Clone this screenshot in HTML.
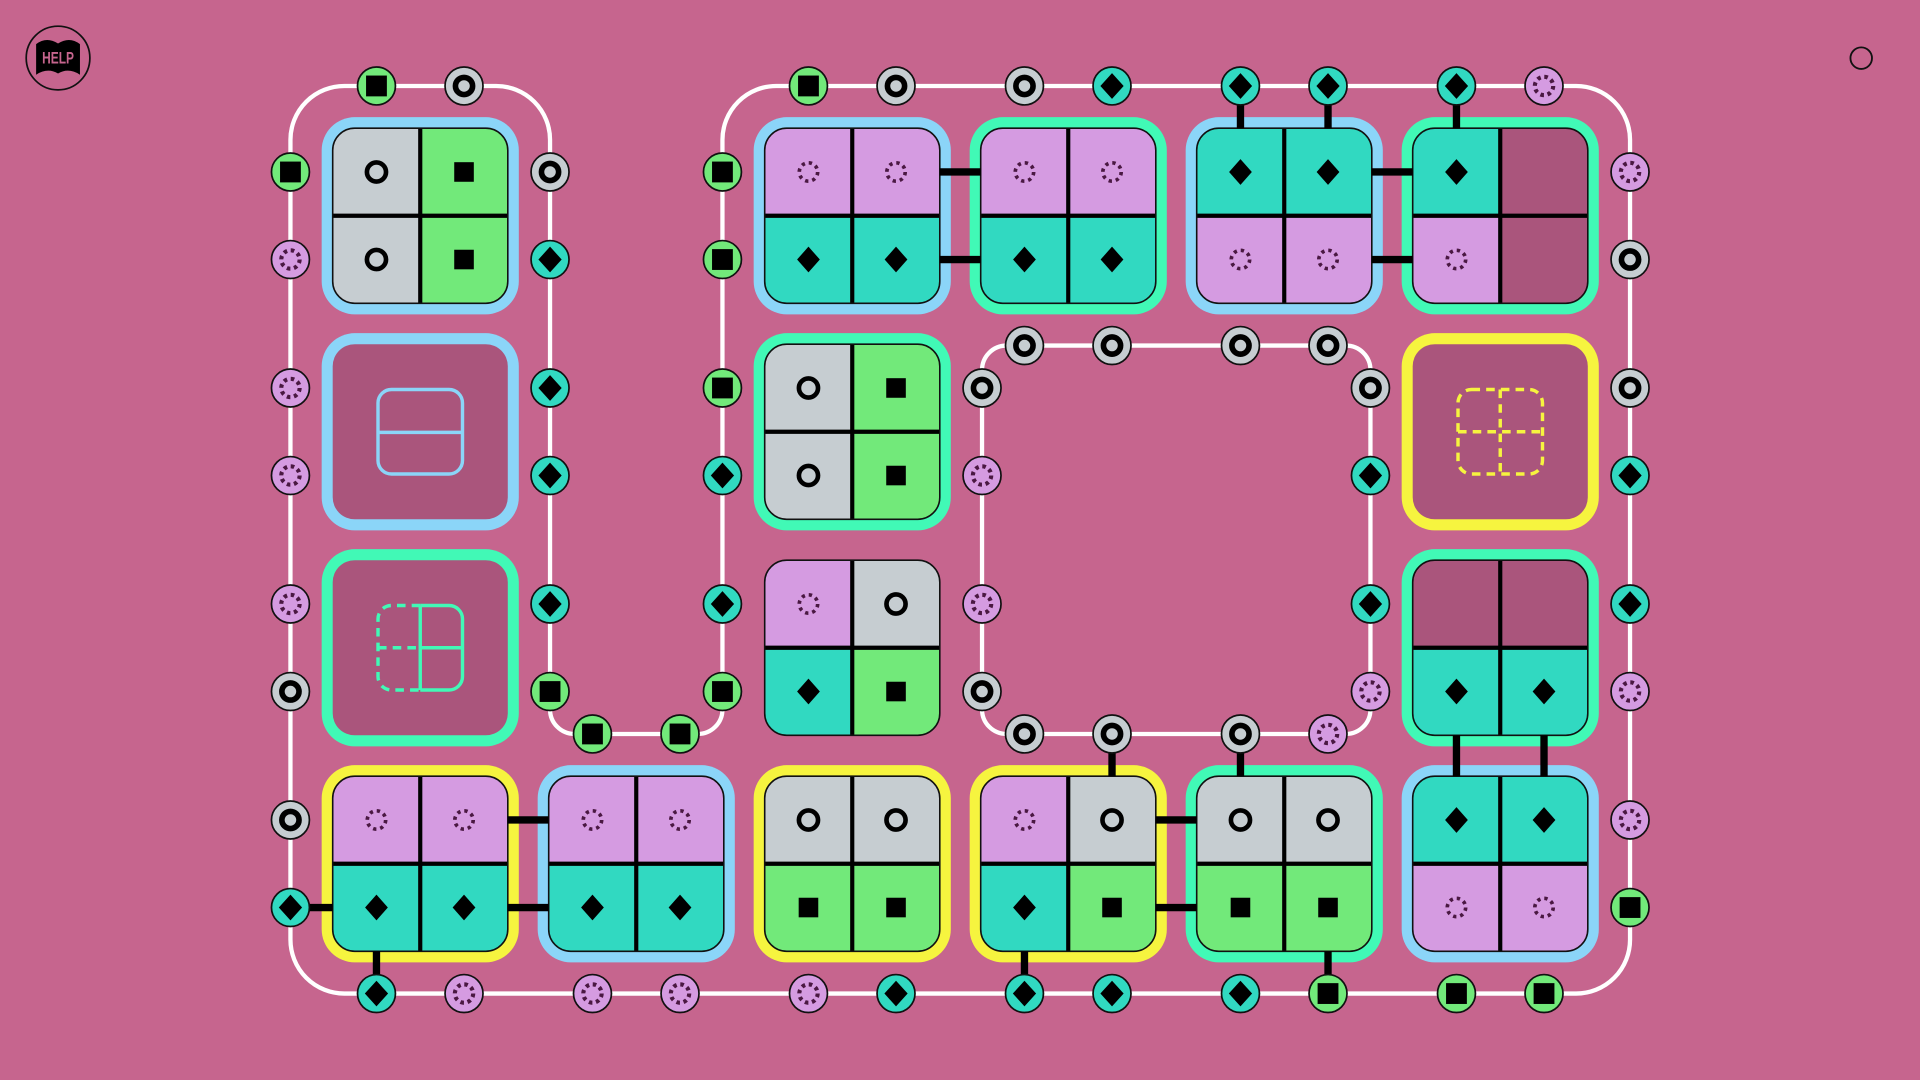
<!DOCTYPE html>
<html><head><meta charset="utf-8"><style>html,body{margin:0;padding:0;background:#C6658E;overflow:hidden}svg{display:block}</style></head>
<body>
<svg width="1920" height="1080" viewBox="0 0 1568 882" xmlns="http://www.w3.org/2000/svg" xmlns:xlink="http://www.w3.org/1999/xlink">
<defs>
<clipPath id="tc"><rect x="-71.5" y="-71.5" width="143" height="143" rx="18"/></clipPath>
<rect id="bd" x="-80.5" y="-80.5" width="161" height="161" rx="27"/>
<rect id="q" width="71.5" height="71.5"/>
<g id="grid"><path d="M0-71.5V71.5M-71.5 0H71.5" stroke="#000" stroke-width="3.4"/><rect x="-71.5" y="-71.5" width="143" height="143" rx="18" fill="none" stroke="#111" stroke-width="1.3"/></g>
<g id="nS"><circle r="15.5" fill="#72E97A" stroke="#111" stroke-width="1.4"/><rect x="-8.5" y="-8.5" width="17" height="17" fill="#000"/></g>
<g id="nR"><circle r="15.5" fill="#C6CDD1" stroke="#111" stroke-width="1.4"/><circle r="7" fill="none" stroke="#000" stroke-width="4.6"/></g>
<g id="nD"><circle r="15.5" fill="#31D9C1" stroke="#111" stroke-width="1.4"/><path d="M0-10.5L9.5 0 0 10.5-9.5 0Z" fill="#000"/></g>
<g id="nL"><circle r="15.5" fill="#D59BE1" stroke="#111" stroke-width="1.4"/><circle r="7.5" fill="none" stroke="#4A1842" stroke-width="3.4" stroke-dasharray="2.9 2.99"/></g>
<circle id="cG" r="7.8" fill="none" stroke="#000" stroke-width="3.8"/>
<rect id="cN" x="-8" y="-8" width="16" height="16" fill="#000"/>
<path id="cT" d="M0-10.5L9.3 0 0 10.5-9.3 0Z" fill="#000"/>
<circle id="cL" r="7.5" fill="none" stroke="#4A1842" stroke-width="3" stroke-dasharray="2.7 3.19"/>
</defs>

<rect width="1568" height="882" fill="#C6658E"/>

<!-- HELP icon -->
<circle cx="47.4" cy="47.4" r="26" fill="none" stroke="#111" stroke-width="1.4"/>
<path d="M29.5 36 Q38 29.5 47.4 35.5 Q56.8 29.5 65.3 36 L65.3 61 Q56 55 47.4 60 Q38.8 55 29.5 61 Z" fill="#000"/>
<text x="47.4" y="51.8" font-size="13.5" font-weight="bold" text-anchor="middle" fill="#C6658E" font-family="'Liberation Sans Narrow','Liberation Sans',sans-serif" textLength="26" lengthAdjust="spacingAndGlyphs">HELP</text>

<!-- top right circle -->
<circle cx="1520" cy="47.5" r="8.8" fill="none" stroke="#111" stroke-width="1.5"/>

<!-- white loops -->
<path d="M281.2 70.2 H405.2 A44 44 0 0 1 449.2 114.2 V579.4 A20 20 0 0 0 469.2 599.4 H570 A20 20 0 0 0 590 579.4 V114.2 A44 44 0 0 1 634 70.2 H1287.2 A44 44 0 0 1 1331.2 114.2 V767.4 A44 44 0 0 1 1287.2 811.4 H281.2 A44 44 0 0 1 237.2 767.4 V114.2 A44 44 0 0 1 281.2 70.2 Z" fill="none" stroke="#fff" stroke-width="3.5"/>
<rect x="802" y="282.2" width="317.2" height="317.2" rx="20" fill="none" stroke="#fff" stroke-width="3.5"/>

<!-- TILES -->
<g transform="translate(343.2,176.2)">
<use href="#bd" fill="#8BD5F8"/>
<g clip-path="url(#tc)"><use href="#q" x="-71.5" y="-71.5" fill="#C6CDD1"/><use href="#q" x="0" y="-71.5" fill="#72E97A"/><use href="#q" x="-71.5" y="0" fill="#C6CDD1"/><use href="#q" x="0" y="0" fill="#72E97A"/></g>
<use href="#grid"/>
<use href="#cG" x="-35.75" y="-35.75"/><use href="#cN" x="35.75" y="-35.75"/><use href="#cG" x="-35.75" y="35.75"/><use href="#cN" x="35.75" y="35.75"/>
</g>
<g transform="translate(696,176.2)">
<use href="#bd" fill="#8BD5F8"/>
<g clip-path="url(#tc)"><use href="#q" x="-71.5" y="-71.5" fill="#D59BE1"/><use href="#q" x="0" y="-71.5" fill="#D59BE1"/><use href="#q" x="-71.5" y="0" fill="#31D9C1"/><use href="#q" x="0" y="0" fill="#31D9C1"/></g>
<use href="#grid"/>
<use href="#cL" x="-35.75" y="-35.75"/><use href="#cL" x="35.75" y="-35.75"/><use href="#cT" x="-35.75" y="35.75"/><use href="#cT" x="35.75" y="35.75"/>
</g>
<g transform="translate(872.4,176.2)">
<use href="#bd" fill="#41F9B6"/>
<g clip-path="url(#tc)"><use href="#q" x="-71.5" y="-71.5" fill="#D59BE1"/><use href="#q" x="0" y="-71.5" fill="#D59BE1"/><use href="#q" x="-71.5" y="0" fill="#31D9C1"/><use href="#q" x="0" y="0" fill="#31D9C1"/></g>
<use href="#grid"/>
<use href="#cL" x="-35.75" y="-35.75"/><use href="#cL" x="35.75" y="-35.75"/><use href="#cT" x="-35.75" y="35.75"/><use href="#cT" x="35.75" y="35.75"/>
</g>
<g transform="translate(1048.8,176.2)">
<use href="#bd" fill="#8BD5F8"/>
<g clip-path="url(#tc)"><use href="#q" x="-71.5" y="-71.5" fill="#31D9C1"/><use href="#q" x="0" y="-71.5" fill="#31D9C1"/><use href="#q" x="-71.5" y="0" fill="#D59BE1"/><use href="#q" x="0" y="0" fill="#D59BE1"/></g>
<use href="#grid"/>
<use href="#cT" x="-35.75" y="-35.75"/><use href="#cT" x="35.75" y="-35.75"/><use href="#cL" x="-35.75" y="35.75"/><use href="#cL" x="35.75" y="35.75"/>
</g>
<g transform="translate(1225.2,176.2)">
<use href="#bd" fill="#41F9B6"/>
<g clip-path="url(#tc)"><use href="#q" x="-71.5" y="-71.5" fill="#31D9C1"/><use href="#q" x="0" y="-71.5" fill="#AA557C"/><use href="#q" x="-71.5" y="0" fill="#D59BE1"/><use href="#q" x="0" y="0" fill="#AA557C"/></g>
<use href="#grid"/>
<use href="#cT" x="-35.75" y="-35.75"/><use href="#cL" x="-35.75" y="35.75"/>
</g>
<g transform="translate(343.2,352.6)">
<use href="#bd" fill="#8BD5F8"/>
<rect x="-71.5" y="-71.5" width="143" height="143" rx="18" fill="#AA557C"/>
<rect x="-34.5" y="-34.5" width="69" height="69" rx="11" fill="none" stroke="#8BD5F8" stroke-width="2.8"/>
<line x1="-34.5" y1="0.5" x2="34.5" y2="0.5" stroke="#8BD5F8" stroke-width="2.8"/>
</g>
<g transform="translate(696,352.6)">
<use href="#bd" fill="#41F9B6"/>
<g clip-path="url(#tc)"><use href="#q" x="-71.5" y="-71.5" fill="#C6CDD1"/><use href="#q" x="0" y="-71.5" fill="#72E97A"/><use href="#q" x="-71.5" y="0" fill="#C6CDD1"/><use href="#q" x="0" y="0" fill="#72E97A"/></g>
<use href="#grid"/>
<use href="#cG" x="-35.75" y="-35.75"/><use href="#cN" x="35.75" y="-35.75"/><use href="#cG" x="-35.75" y="35.75"/><use href="#cN" x="35.75" y="35.75"/>
</g>
<g transform="translate(1225.2,352.6)">
<use href="#bd" fill="#F6F43F"/>
<rect x="-71.5" y="-71.5" width="143" height="143" rx="18" fill="#AA557C"/>
<g fill="none" stroke="#F6F43F" stroke-width="2.8" stroke-dasharray="7 5">
<rect x="-34.5" y="-34.5" width="69" height="69" rx="11"/>
<line x1="0" y1="-34.5" x2="0" y2="34.5"/>
<line x1="-34.5" y1="0" x2="34.5" y2="0"/>
</g>
</g>
<g transform="translate(343.2,529)">
<use href="#bd" fill="#41F9B6"/>
<rect x="-71.5" y="-71.5" width="143" height="143" rx="18" fill="#AA557C"/>
<g fill="none" stroke="#41F9B6" stroke-width="2.8">
<path d="M0 -34.5 H23.5 A11 11 0 0 1 34.5 -23.5 V23.5 A11 11 0 0 1 23.5 34.5 H0 M0 -34.5 V34.5 M0 0 H34.5"/>
<path d="M0 -34.5 H-23.5 A11 11 0 0 0 -34.5 -23.5 V23.5 A11 11 0 0 0 -23.5 34.5 H0 M-34.5 0 H0" stroke-dasharray="7 5"/>
</g>
</g>
<g transform="translate(696,529)">
<g clip-path="url(#tc)"><use href="#q" x="-71.5" y="-71.5" fill="#D59BE1"/><use href="#q" x="0" y="-71.5" fill="#C6CDD1"/><use href="#q" x="-71.5" y="0" fill="#31D9C1"/><use href="#q" x="0" y="0" fill="#72E97A"/></g>
<use href="#grid"/>
<use href="#cL" x="-35.75" y="-35.75"/><use href="#cG" x="35.75" y="-35.75"/><use href="#cT" x="-35.75" y="35.75"/><use href="#cN" x="35.75" y="35.75"/>
</g>
<g transform="translate(1225.2,529)">
<use href="#bd" fill="#41F9B6"/>
<g clip-path="url(#tc)"><use href="#q" x="-71.5" y="-71.5" fill="#AA557C"/><use href="#q" x="0" y="-71.5" fill="#AA557C"/><use href="#q" x="-71.5" y="0" fill="#31D9C1"/><use href="#q" x="0" y="0" fill="#31D9C1"/></g>
<use href="#grid"/>
<use href="#cT" x="-35.75" y="35.75"/><use href="#cT" x="35.75" y="35.75"/>
</g>
<g transform="translate(343.2,705.4)">
<use href="#bd" fill="#F6F43F"/>
<g clip-path="url(#tc)"><use href="#q" x="-71.5" y="-71.5" fill="#D59BE1"/><use href="#q" x="0" y="-71.5" fill="#D59BE1"/><use href="#q" x="-71.5" y="0" fill="#31D9C1"/><use href="#q" x="0" y="0" fill="#31D9C1"/></g>
<use href="#grid"/>
<use href="#cL" x="-35.75" y="-35.75"/><use href="#cL" x="35.75" y="-35.75"/><use href="#cT" x="-35.75" y="35.75"/><use href="#cT" x="35.75" y="35.75"/>
</g>
<g transform="translate(519.6,705.4)">
<use href="#bd" fill="#8BD5F8"/>
<g clip-path="url(#tc)"><use href="#q" x="-71.5" y="-71.5" fill="#D59BE1"/><use href="#q" x="0" y="-71.5" fill="#D59BE1"/><use href="#q" x="-71.5" y="0" fill="#31D9C1"/><use href="#q" x="0" y="0" fill="#31D9C1"/></g>
<use href="#grid"/>
<use href="#cL" x="-35.75" y="-35.75"/><use href="#cL" x="35.75" y="-35.75"/><use href="#cT" x="-35.75" y="35.75"/><use href="#cT" x="35.75" y="35.75"/>
</g>
<g transform="translate(696,705.4)">
<use href="#bd" fill="#F6F43F"/>
<g clip-path="url(#tc)"><use href="#q" x="-71.5" y="-71.5" fill="#C6CDD1"/><use href="#q" x="0" y="-71.5" fill="#C6CDD1"/><use href="#q" x="-71.5" y="0" fill="#72E97A"/><use href="#q" x="0" y="0" fill="#72E97A"/></g>
<use href="#grid"/>
<use href="#cG" x="-35.75" y="-35.75"/><use href="#cG" x="35.75" y="-35.75"/><use href="#cN" x="-35.75" y="35.75"/><use href="#cN" x="35.75" y="35.75"/>
</g>
<g transform="translate(872.4,705.4)">
<use href="#bd" fill="#F6F43F"/>
<g clip-path="url(#tc)"><use href="#q" x="-71.5" y="-71.5" fill="#D59BE1"/><use href="#q" x="0" y="-71.5" fill="#C6CDD1"/><use href="#q" x="-71.5" y="0" fill="#31D9C1"/><use href="#q" x="0" y="0" fill="#72E97A"/></g>
<use href="#grid"/>
<use href="#cL" x="-35.75" y="-35.75"/><use href="#cG" x="35.75" y="-35.75"/><use href="#cT" x="-35.75" y="35.75"/><use href="#cN" x="35.75" y="35.75"/>
</g>
<g transform="translate(1048.8,705.4)">
<use href="#bd" fill="#41F9B6"/>
<g clip-path="url(#tc)"><use href="#q" x="-71.5" y="-71.5" fill="#C6CDD1"/><use href="#q" x="0" y="-71.5" fill="#C6CDD1"/><use href="#q" x="-71.5" y="0" fill="#72E97A"/><use href="#q" x="0" y="0" fill="#72E97A"/></g>
<use href="#grid"/>
<use href="#cG" x="-35.75" y="-35.75"/><use href="#cG" x="35.75" y="-35.75"/><use href="#cN" x="-35.75" y="35.75"/><use href="#cN" x="35.75" y="35.75"/>
</g>
<g transform="translate(1225.2,705.4)">
<use href="#bd" fill="#8BD5F8"/>
<g clip-path="url(#tc)"><use href="#q" x="-71.5" y="-71.5" fill="#31D9C1"/><use href="#q" x="0" y="-71.5" fill="#31D9C1"/><use href="#q" x="-71.5" y="0" fill="#D59BE1"/><use href="#q" x="0" y="0" fill="#D59BE1"/></g>
<use href="#grid"/>
<use href="#cT" x="-35.75" y="-35.75"/><use href="#cT" x="35.75" y="-35.75"/><use href="#cL" x="-35.75" y="35.75"/><use href="#cL" x="35.75" y="35.75"/>
</g>

<!-- connectors -->
<g stroke="#000" stroke-width="6" fill="none">
<path d="M767.5 140.45H800.9M767.5 211.95H800.9"/>
<path d="M1120.3 140.45H1153.7M1120.3 211.95H1153.7"/>
<path d="M1013.05 70.2V104.7M1084.55 70.2V104.7M1189.45 70.2V104.7"/>
<path d="M414.7 669.65H448.1M414.7 741.15H448.1"/>
<path d="M237.2 741.15H271.7"/>
<path d="M307.45 776.9V811.4"/>
<path d="M908.15 599.4V633.9M1013.05 599.4V633.9"/>
<path d="M943.9 669.65H977.3M943.9 741.15H977.3"/>
<path d="M836.65 776.9V811.4M1084.55 776.9V811.4"/>
<path d="M1189.45 600.5V633.9M1260.95 600.5V633.9"/>
</g>

<!-- NODES -->
<use href="#nS" x="307.45" y="70.2"/><use href="#nR" x="378.95" y="70.2"/>
<use href="#nS" x="660.25" y="70.2"/><use href="#nR" x="731.75" y="70.2"/>
<use href="#nR" x="836.65" y="70.2"/><use href="#nD" x="908.15" y="70.2"/>
<use href="#nD" x="1013.05" y="70.2"/><use href="#nD" x="1084.55" y="70.2"/>
<use href="#nD" x="1189.45" y="70.2"/><use href="#nL" x="1260.95" y="70.2"/>
<use href="#nS" x="237.2" y="140.45"/><use href="#nL" x="237.2" y="211.95"/>
<use href="#nL" x="237.2" y="316.85"/><use href="#nL" x="237.2" y="388.35"/>
<use href="#nL" x="237.2" y="493.25"/><use href="#nR" x="237.2" y="564.75"/>
<use href="#nR" x="237.2" y="669.65"/><use href="#nD" x="237.2" y="741.15"/>
<use href="#nR" x="449.2" y="140.45"/><use href="#nD" x="449.2" y="211.95"/>
<use href="#nD" x="449.2" y="316.85"/><use href="#nD" x="449.2" y="388.35"/>
<use href="#nD" x="449.2" y="493.25"/><use href="#nS" x="449.2" y="564.75"/>
<use href="#nS" x="483.85" y="599.4"/><use href="#nS" x="555.35" y="599.4"/>
<use href="#nS" x="590" y="140.45"/><use href="#nS" x="590" y="211.95"/>
<use href="#nS" x="590" y="316.85"/><use href="#nD" x="590" y="388.35"/>
<use href="#nD" x="590" y="493.25"/><use href="#nS" x="590" y="564.75"/>
<use href="#nR" x="836.65" y="282.2"/><use href="#nR" x="908.15" y="282.2"/>
<use href="#nR" x="1013.05" y="282.2"/><use href="#nR" x="1084.55" y="282.2"/>
<use href="#nR" x="802" y="316.85"/><use href="#nL" x="802" y="388.35"/>
<use href="#nL" x="802" y="493.25"/><use href="#nR" x="802" y="564.75"/>
<use href="#nR" x="1119.2" y="316.85"/><use href="#nD" x="1119.2" y="388.35"/>
<use href="#nD" x="1119.2" y="493.25"/><use href="#nL" x="1119.2" y="564.75"/>
<use href="#nR" x="836.65" y="599.4"/><use href="#nR" x="908.15" y="599.4"/>
<use href="#nR" x="1013.05" y="599.4"/><use href="#nL" x="1084.55" y="599.4"/>
<use href="#nL" x="1331.2" y="140.45"/><use href="#nR" x="1331.2" y="211.95"/>
<use href="#nR" x="1331.2" y="316.85"/><use href="#nD" x="1331.2" y="388.35"/>
<use href="#nD" x="1331.2" y="493.25"/><use href="#nL" x="1331.2" y="564.75"/>
<use href="#nL" x="1331.2" y="669.65"/><use href="#nS" x="1331.2" y="741.15"/>
<use href="#nD" x="307.45" y="811.4"/><use href="#nL" x="378.95" y="811.4"/>
<use href="#nL" x="483.85" y="811.4"/><use href="#nL" x="555.35" y="811.4"/>
<use href="#nL" x="660.25" y="811.4"/><use href="#nD" x="731.75" y="811.4"/>
<use href="#nD" x="836.65" y="811.4"/><use href="#nD" x="908.15" y="811.4"/>
<use href="#nD" x="1013.05" y="811.4"/><use href="#nS" x="1084.55" y="811.4"/>
<use href="#nS" x="1189.45" y="811.4"/><use href="#nS" x="1260.95" y="811.4"/>
</svg>
</body></html>
